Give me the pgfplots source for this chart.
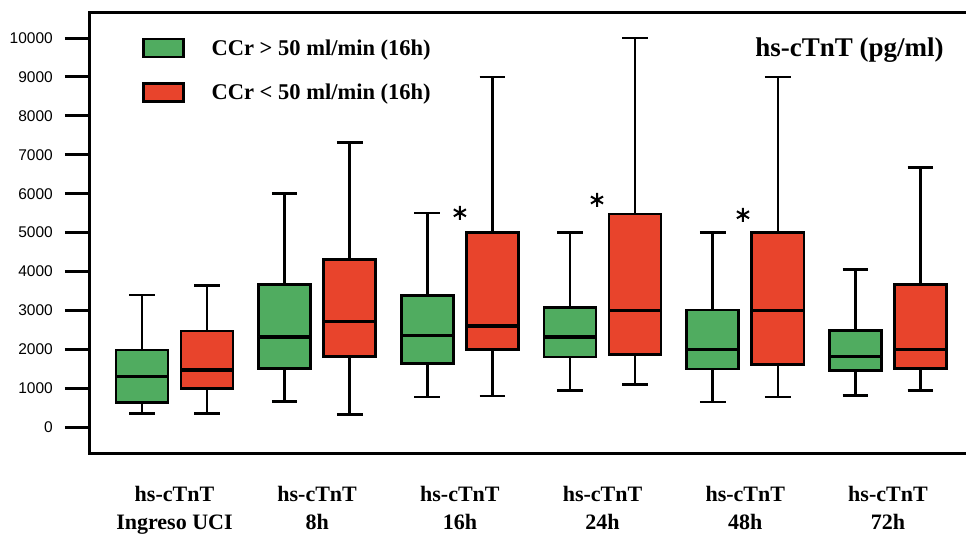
\documentclass[border=0pt]{standalone}
\usepackage{pgfplots}
\pgfplotsset{compat=1.18}
\usepgfplotslibrary{statistics}
\usepackage{fontspec}
\setmainfont{Liberation Serif}
\newfontfamily\sans{Liberation Sans}
\definecolor{cgreen}{RGB}{80,172,96}
\definecolor{cred}{RGB}{232,68,44}
\pgfplotsset{
  gbox/.style={draw=black, fill=cgreen, line width=2.6pt},
  rbox/.style={draw=black, fill=cred, line width=2.6pt},
  sqlegend/.style={legend image code/.code={\draw[##1] (0pt,-9pt) rectangle (40pt,9pt);}},
}
\newcommand{\bx}[7]{\addplot[#1, forget plot, boxplot prepared={draw position=#2, lower whisker=#3, lower quartile=#4, median=#5, upper quartile=#6, upper whisker=#7, box extend=0.365, whisker extend=0.18, every median/.style={line width=3.2pt}}] coordinates {};}
\begin{document}
\begin{tikzpicture}
\begin{axis}[
  scale only axis, width=880pt, height=441pt,
  xmin=-0.592, xmax=5.575, ymin=-660, ymax=10668,
  axis line style={line width=3pt},
  boxplot/draw direction=y,
  ytick={0,1000,...,10000},
  scaled y ticks=false,
  ytick pos=left, tick align=outside,
  major tick length=25pt,
  ytick style={line width=3pt, black},
  yticklabel style={font=\sans\fontsize{15.5}{18}\selectfont, anchor=east, inner sep=0pt, xshift=-12pt},
  /pgf/number format/assume math mode=true,
  /pgf/number format/1000 sep={},
  xtick={0,1,2,3,4,5}, xtick style={draw=none},
  xticklabels={{hs-cTnT\\Ingreso UCI},{hs-cTnT\\8h},{hs-cTnT\\16h},{hs-cTnT\\24h},{hs-cTnT\\48h},{hs-cTnT\\72h}},
  xticklabel style={font=\bfseries\fontsize{22}{28.5}\selectfont, align=center, anchor=north, inner sep=0pt, yshift=-8pt},
  legend style={draw=none, fill=none, at={(axis cs:-0.228,10008)}, anchor=north west,
    font=\bfseries\fontsize{22.5}{26}\selectfont, row sep=24pt, column sep=27pt, inner sep=0pt, nodes={inner sep=0pt}},
  legend cell align=left,
]
\coordinate (SW) at (rel axis cs:0,0);
\bx{gbox}{-0.228}{360}{640}{1310}{1990}{3400}
\bx{rbox}{0.228}{360}{1000}{1470}{2470}{3650}
\bx{gbox}{0.772}{670}{1510}{2320}{3670}{6000}
\bx{rbox}{1.228}{330}{1825}{2710}{4310}{7310}
\bx{gbox}{1.772}{780}{1640}{2350}{3390}{5510}
\bx{rbox}{2.228}{800}{2000}{2600}{5000}{9000}
\bx{gbox}{2.772}{950}{1810}{2320}{3070}{5000}
\bx{rbox}{3.228}{1100}{1870}{3000}{5480}{10000}
\bx{gbox}{3.772}{650}{1500}{2000}{3010}{5000}
\bx{rbox}{4.228}{780}{1620}{3010}{5000}{9000}
\bx{gbox}{4.772}{820}{1465}{1810}{2490}{4060}
\bx{rbox}{5.228}{950}{1510}{2000}{3670}{6675}
\addplot[only marks, mark=asterisk, mark size=7pt, line width=2pt, black, forget plot] coordinates {(2.0,5510) (2.961,5840) (3.984,5460)};
\addlegendimage{sqlegend, draw=black, fill=cgreen, line width=2.5pt}
\addlegendentry{CCr > 50 ml/min (16h)}
\addlegendimage{sqlegend, draw=black, fill=cred, line width=2.5pt}
\addlegendentry{CCr < 50 ml/min (16h)}
\node[font=\bfseries\fontsize{27}{30}\selectfont] at (axis cs:4.73,9700) {hs-cTnT (pg/ml)};
\end{axis}
\pgfresetboundingbox
\path (SW) ++(-90pt,-89pt) rectangle ++(966pt,542pt);
\end{tikzpicture}
\end{document}
